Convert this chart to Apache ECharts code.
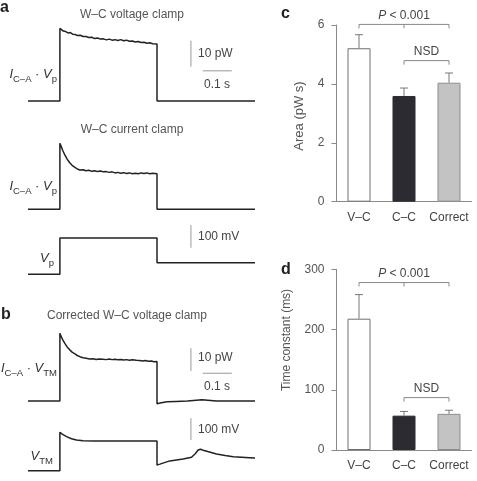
<!DOCTYPE html>
<html>
<head>
<meta charset="utf-8">
<script src="https://cdn.jsdelivr.net/npm/echarts@6/dist/echarts.min.js"></script>
<style>
  html, body { margin: 0; padding: 0; background: #fff; }
  #main { width: 477px; height: 481px; }
</style>
</head>
<body>
<div id="main"></div>
<script>
// time in ms from pulse onset, power in pW, voltage in mV
const vcTrace = [
  [-110, 0], [0, 0], [0, 27.9], [6, 27.2], [12, 26.9], [20, 26.7], [28, 26.2], [36, 26.3],
  [44, 25.7], [52, 25.6], [60, 25.2], [70, 25.3], [80, 24.8], [90, 24.8], [100, 24.4],
  [110, 24.5], [120, 24.0], [130, 24.2], [140, 23.8], [150, 23.9], [160, 23.5], [170, 23.8],
  [180, 23.4], [190, 23.6], [200, 23.3], [210, 23.6], [220, 23.2], [230, 23.4], [240, 23.0],
  [250, 23.1], [260, 22.7], [270, 22.9], [280, 22.5], [290, 22.6], [300, 22.2], [310, 22.4],
  [320, 22.0], [335, 21.9], [335, 0], [673, 0]
];
const ccTrace = [
  [-110, 0], [0, 0], [0, 25.4], [5, 24.0], [10, 22.6], [17, 20.9], [25, 19.3], [34, 17.9],
  [42, 16.9], [52, 16.1], [60, 15.5], [69, 15.1], [80, 15.2], [90, 14.8], [100, 15.0],
  [110, 14.6], [120, 14.8], [130, 14.5], [140, 14.7], [150, 14.4], [160, 14.5], [170, 14.2],
  [180, 14.4], [190, 14.0], [200, 14.2], [210, 13.9], [220, 14.1], [230, 13.8], [240, 14.0],
  [250, 13.7], [260, 13.9], [270, 13.7], [280, 14.0], [290, 13.8], [300, 14.0], [310, 13.7],
  [320, 13.9], [335, 13.7], [335, 0], [673, 0]
];
const vpTrace = [[-110, -80], [0, -80], [0, 80], [335, 80], [335, -29], [673, -29]];
const corrTrace = [
  [-110, 0], [0, 0], [0, 29.8], [5, 28.2], [10, 26.9], [17, 25.4], [25, 23.8], [34, 22.5],
  [42, 21.5], [52, 20.7], [60, 20.0], [69, 19.5], [80, 19.0], [90, 18.8], [103, 18.5],
  [115, 18.6], [125, 18.3], [135, 18.5], [148, 18.4], [160, 18.2], [170, 18.5], [180, 18.2],
  [190, 18.4], [200, 18.1], [210, 18.3], [220, 18.0], [230, 18.2], [240, 17.9], [250, 18.1],
  [264, 17.9], [275, 17.8], [285, 17.6], [295, 17.8], [305, 17.5], [315, 17.6], [325, 17.3],
  [335, 17.4], [335, -1.2], [350, -0.8], [370, -0.4], [400, -0.2], [440, 0], [470, 0.3],
  [490, 0.5], [510, 0.3], [540, 0], [600, 0], [673, 0]
];
const vtmTrace = [
  [-110, -80], [0, -80], [0, 97], [8, 88], [23, 77], [40, 67], [57, 61], [80, 58], [120, 57],
  [335, 57], [335, -54], [345, -50], [379, -35], [425, -26], [454, -18], [466, -3], [477, 15],
  [485, 19], [494, 14], [510, 8], [540, -3], [570, -10], [598, -15.5], [655, -20], [673, -22]
];

const groups = ['V–C', 'C–C', 'Correct'];
const areaMean = [5.21, 3.59, 4.04];
const areaSem = [0.46, 0.27, 0.33];
const areaTicks = [0, 2, 4, 6];
const tauMean = [218, 57, 60];
const tauSem = [40, 7, 6];
const tauTicks = [0, 100, 200, 300];
const bracketLabels = ['P < 0.001', 'NSD'];
const areaBrackets = [[0, 2, 6.02], [1, 2, 4.79]];
const tauBrackets = [[0, 2, 278], [1, 2, 87]];

// scale bar sizes
const powerBar = 10;   // pW
const timeBar = 100;   // ms
const voltBar = 100;   // mV

const FONT = 'Liberation Sans, Arial, sans-serif';
const TRACE = '#222';
const GREY = '#8a8a8a';

const myChart = echarts.init(document.getElementById('main'));

// trace panels: [top, height, ymin, ymax]
const traceGrids = [
  [23, 88.4, -4, 30],
  [131.3, 88.4, -4, 30],
  [224.4, 54.5, -100, 140],
  [321.5, 88.5, -4, 35],
  [416.4, 58.6, -100, 170]
];

const grid = traceGrids.map(g => ({left: 28, width: 227, top: g[0], height: g[1]}));
grid.push({left: 336.5, width: 135, top: 25, height: 176.7});
grid.push({left: 336.5, width: 135, top: 269.3, height: 180.7});

const xAxis = traceGrids.map((g, i) => ({type: 'value', gridIndex: i, min: -110, max: 673, show: false}));
const yAxis = traceGrids.map((g, i) => ({type: 'value', gridIndex: i, min: g[2], max: g[3], show: false}));

function barAxes(gi, ticks) {
    xAxis.push({
        type: 'category', gridIndex: gi, data: groups,
        axisLine: {lineStyle: {color: GREY, width: 1}},
        axisTick: {show: false},
        axisLabel: {color: '#444', fontSize: 12, fontFamily: FONT, margin: 10, interval: 0, hideOverlap: false}
    });
    yAxis.push({
        type: 'value', gridIndex: gi, min: ticks[0], max: ticks[ticks.length - 1],
        interval: ticks[1] - ticks[0],
        axisLine: {show: true, lineStyle: {color: GREY, width: 1}},
        axisTick: {show: true, inside: false, length: 5, lineStyle: {color: GREY}},
        axisLabel: {color: '#555', fontSize: 12, fontFamily: FONT, margin: 12},
        splitLine: {show: false}
    });
}
barAxes(5, areaTicks);
barAxes(6, tauTicks);

function traceSeries(data, idx) {
    return {
        type: 'line', xAxisIndex: idx, yAxisIndex: idx, data: data,
        symbol: 'none', silent: true,
        lineStyle: {color: TRACE, width: 1.5}
    };
}

// scale bar drawn in the data units of its panel
function scaleBar(idx, x, y, len, vertical) {
    const pts = vertical ? [[x, y], [x, y + len]] : [[x, y], [x + len, y]];
    return {
        type: 'line', xAxisIndex: idx, yAxisIndex: idx, data: pts,
        symbol: 'none', silent: true,
        lineStyle: {color: '#999', width: 1}
    };
}

const barColors = [
    {color: '#ffffff', borderColor: '#6e6e6e'},
    {color: '#2b2b31', borderColor: '#2b2b31'},
    {color: '#c3c3c3', borderColor: '#8c8c8c'}
];

function barSeries(idx, means) {
    return {
        type: 'bar', xAxisIndex: idx, yAxisIndex: idx, barWidth: 23,
        data: means.map((v, i) => ({
            value: v,
            itemStyle: {color: barColors[i].color, borderColor: barColors[i].borderColor, borderWidth: 1}
        }))
    };
}

function errSeries(idx, means, sems) {
    return {
        type: 'custom', xAxisIndex: idx, yAxisIndex: idx, z: 3,
        data: means.map((v, i) => [i, v, sems[i]]),
        renderItem: function (params, api) {
            const base = api.coord([api.value(0), api.value(1)]);
            const top = api.coord([api.value(0), api.value(1) + api.value(2)]);
            const st = {stroke: '#777', lineWidth: 1};
            return {
                type: 'group', children: [
                    {type: 'line', shape: {x1: base[0], y1: base[1], x2: top[0], y2: top[1]}, style: st},
                    {type: 'line', shape: {x1: top[0] - 4, y1: top[1], x2: top[0] + 4, y2: top[1]}, style: st}
                ]
            };
        }
    };
}

function bracketSeries(idx, brackets) {
    return {
        type: 'custom', xAxisIndex: idx, yAxisIndex: idx, z: 3,
        data: brackets,
        renderItem: function (params, api) {
            const i0 = api.value(0), i1 = api.value(1), v = api.value(2);
            const a = api.coord([i0, v]);
            const b = api.coord([i1, v]);
            const st = {stroke: '#888', lineWidth: 1, fill: null};
            const children = [{
                type: 'polyline',
                shape: {points: [[a[0], a[1] + 4], [a[0], a[1]], [b[0], b[1]], [b[0], b[1] + 4]]},
                style: st
            }];
            for (let k = i0 + 1; k < i1; k++) {
                const m = api.coord([k, v]);
                children.push({type: 'line', shape: {x1: m[0], y1: m[1], x2: m[0], y2: m[1] + 4}, style: st});
            }
            const label = bracketLabels[params.dataIndex];
            children.push({
                type: 'text',
                style: {
                    x: (a[0] + b[0]) / 2, y: a[1] - 8.5,
                    text: label.indexOf('P') === 0 ? '{i|P}' + label.slice(1) : label,
                    align: 'center', verticalAlign: 'middle',
                    fill: '#444', fontSize: 12, fontFamily: FONT,
                    rich: {i: {fontStyle: 'italic', fontSize: 12, fontFamily: FONT, fill: '#444'}}
                }
            });
            return {type: 'group', children: children};
        }
    };
}

const series = [
    traceSeries(vcTrace, 0),
    traceSeries(ccTrace, 1),
    traceSeries(vpTrace, 2),
    traceSeries(corrTrace, 3),
    traceSeries(vtmTrace, 4),
    scaleBar(0, 452, 13.2, powerBar, true),
    scaleBar(0, 493, 11.6, timeBar, false),
    scaleBar(2, 452, 37, voltBar, true),
    scaleBar(3, 452, 13.2, powerBar, true),
    scaleBar(3, 493, 12.2, timeBar, false),
    scaleBar(4, 452, 61.5, voltBar, true),
    barSeries(5, areaMean),
    errSeries(5, areaMean, areaSem),
    bracketSeries(5, areaBrackets),
    barSeries(6, tauMean),
    errSeries(6, tauMean, tauSem),
    bracketSeries(6, tauBrackets)
];

const richLabel = {
    i: {fontStyle: 'italic', fontSize: 13, fontFamily: FONT, fill: '#333', verticalAlign: 'top'},
    n: {fontSize: 13, fontFamily: FONT, fill: '#333', verticalAlign: 'top'},
    s: {fontSize: 9.5, fontFamily: FONT, fill: '#333', padding: [6, 0, 0, 0], verticalAlign: 'bottom'}
};

function txt(x, y, text, opts) {
    return {
        type: 'text', x: x, y: y, silent: true,
        rotation: (opts && opts.rotation) || 0,
        style: Object.assign({
            text: text, align: 'left', verticalAlign: 'middle',
            fill: '#444', fontSize: 12, fontFamily: FONT
        }, opts && opts.style)
    };
}

const right = {align: 'right', rich: richLabel};

const graphic = [
    txt(0, 8, 'a', {style: {fontSize: 16, fontWeight: 'bold', fill: '#222'}}),
    txt(1, 315, 'b', {style: {fontSize: 16, fontWeight: 'bold', fill: '#222'}}),
    txt(281, 14, 'c', {style: {fontSize: 16, fontWeight: 'bold', fill: '#222'}}),
    txt(281, 270, 'd', {style: {fontSize: 16, fontWeight: 'bold', fill: '#222'}}),
    txt(132, 15, 'W–C voltage clamp', {style: {align: 'center', fill: '#555'}}),
    txt(132, 130, 'W–C current clamp', {style: {align: 'center', fill: '#555'}}),
    txt(127, 316, 'Corrected W–C voltage clamp', {style: {align: 'center', fill: '#555'}}),
    txt(57, 76, '{i|I}{s|C–A}{n| · }{i|V}{s|p}', {style: right}),
    txt(57, 188, '{i|I}{s|C–A}{n| · }{i|V}{s|p}', {style: right}),
    txt(54, 260, '{i|V}{s|p}', {style: right}),
    txt(57, 370, '{i|I}{s|C–A}{n| · }{i|V}{s|TM}', {style: right}),
    txt(53, 458, '{i|V}{s|TM}', {style: right}),
    txt(198, 54, '10 pW'),
    txt(217, 85, '0.1 s', {style: {align: 'center'}}),
    txt(198, 237, '100 mV'),
    txt(198, 358, '10 pW'),
    txt(217, 387, '0.1 s', {style: {align: 'center'}}),
    txt(198, 430, '100 mV'),
    txt(299, 116, 'Area (pW s)', {rotation: Math.PI / 2, style: {align: 'center', fontSize: 13, fill: '#555'}}),
    txt(287, 340, 'Time constant (ms)', {rotation: Math.PI / 2, style: {align: 'center', fontSize: 12, fill: '#555'}})
];

myChart.setOption({
    animation: false,
    backgroundColor: '#fff',
    textStyle: {fontFamily: FONT},
    grid: grid,
    xAxis: xAxis,
    yAxis: yAxis,
    series: series,
    graphic: graphic
});
</script>
</body>
</html>
